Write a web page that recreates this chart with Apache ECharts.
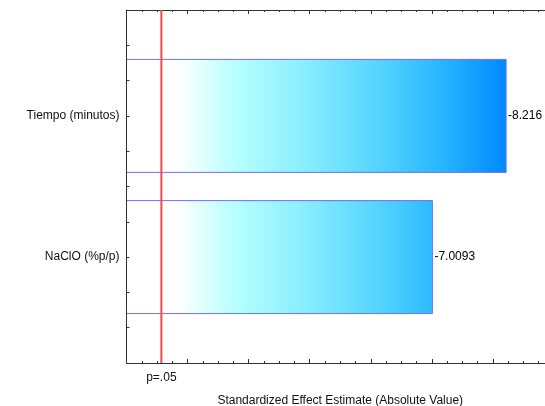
<!DOCTYPE html>
<html>
<head>
<meta charset="utf-8">
<script src="https://cdn.jsdelivr.net/npm/echarts@6/dist/echarts.min.js"></script>
<style>html,body{margin:0;padding:0;background:#fff;}#c{width:545px;height:406px;}</style>
</head>
<body>
<div id="c"></div>
<script>
// Data
const categories = ['Tiempo (minutos)', 'NaClO (%p/p)'];
const categoryPositions = [1, 2];
const absEffects = [8.216, 7.0093];
const effectLabels = ['-8.216', '-7.0093'];
const criticalValue = 2.571;
const criticalLabel = 'p=.05';
const xAxisTitle = 'Standardized Effect Estimate (Absolute Value)';
const barThickness = 0.8; // in category-position units

const chart = echarts.init(document.getElementById('c'), null, {renderer: 'canvas'});
const font = 'Liberation Sans, Arial, sans-serif';
const grad = new echarts.graphic.LinearGradient(168, 0, 507, 0, [
  {offset: 0, color: '#ffffff'},
  {offset: 0.03, color: '#ffffff'},
  {offset: 0.2, color: '#b6ffff'},
  {offset: 0.4, color: '#8aeeff'},
  {offset: 0.62, color: '#55d4ff'},
  {offset: 0.82, color: '#24b4ff'},
  {offset: 1, color: '#0088ff'}
], true);

const axisLineStyle = {color: '#333', width: 1};
const tickStyle = {color: '#333'};

function renderBar(params, api) {
  const v = api.value(0), y = api.value(1);
  const start = api.coord([0, y]);
  const end = api.coord([v, y]);
  const h = Math.abs(api.size([0, barThickness])[1]);
  const cs = params.coordSys;
  return {
    type: 'group',
    children: [{
      type: 'rect',
      shape: {x: start[0], y: start[1] - h / 2, width: end[0] - start[0], height: h},
      style: {fill: grad, stroke: '#6f6fff', lineWidth: 1},
      clipPath: {type: 'rect', shape: {x: cs.x, y: cs.y - 1, width: cs.width, height: cs.height + 2}}
    }, {
      type: 'text',
      x: end[0] + 2, y: end[1],
      style: {
        text: effectLabels[params.dataIndex],
        font: '12px ' + font, fill: '#000',
        verticalAlign: 'middle', align: 'left'
      }
    }]
  };
}

function renderCritical(params, api) {
  const cs = params.coordSys;
  const x = api.coord([api.value(0), 1])[0];
  return {
    type: 'line',
    shape: {x1: x, y1: cs.y, x2: x, y2: cs.y + cs.height},
    style: {stroke: '#f04a4a', lineWidth: 2}
  };
}

chart.setOption({
  animation: false,
  grid: {left: 126.5, top: 10, width: 427.5, height: 353, containLabel: false, outerBoundsMode: 'none'},
  xAxis: [{
    type: 'value', min: 2, max: 9, interval: 1, position: 'bottom', z: 5,
    axisLine: {show: true, onZero: false, lineStyle: axisLineStyle},
    axisTick: {show: true, inside: true, length: 4, lineStyle: tickStyle},
    minorTick: {show: true, splitNumber: 4, length: 2, lineStyle: tickStyle},
    axisLabel: {
      show: true, customValues: [criticalValue], margin: 9,
      fontFamily: font, fontSize: 12, color: '#111',
      formatter: () => criticalLabel
    },
    splitLine: {show: false},
    name: xAxisTitle, nameLocation: 'middle', nameGap: 32,
    nameTextStyle: {fontFamily: font, fontSize: 12, color: '#111'}
  }, {
    type: 'value', min: 2, max: 9, interval: 1, position: 'top', z: 5,
    axisLine: {show: true, onZero: false, lineStyle: axisLineStyle},
    axisTick: {show: true, inside: true, length: 4, lineStyle: tickStyle},
    minorTick: {show: true, splitNumber: 4, length: 2, lineStyle: tickStyle},
    axisLabel: {show: false}, splitLine: {show: false}
  }],
  yAxis: {
    type: 'value', inverse: true, min: 0.25, max: 2.75, interval: 0.25, z: 5,
    axisLine: {show: true, onZero: false, lineStyle: axisLineStyle},
    axisTick: {show: true, inside: true, length: 3, lineStyle: tickStyle},
    splitLine: {show: false},
    axisLabel: {
      margin: 7, fontFamily: font, fontSize: 12, color: '#111',
      formatter: v => {
        const i = categoryPositions.findIndex(p => Math.abs(p - v) < 1e-6);
        return i >= 0 ? categories[i] : '';
      }
    }
  },
  series: [{
    type: 'custom',
    xAxisIndex: 0,
    z: 2,
    renderItem: renderBar,
    data: absEffects.map((v, i) => [v, categoryPositions[i]]),
    encode: {x: 0, y: 1}
  }, {
    type: 'custom',
    xAxisIndex: 0,
    z: 8,
    silent: true,
    renderItem: renderCritical,
    data: [[criticalValue, 1]],
    encode: {x: 0, y: 1}
  }]
});
</script>
</body>
</html>
